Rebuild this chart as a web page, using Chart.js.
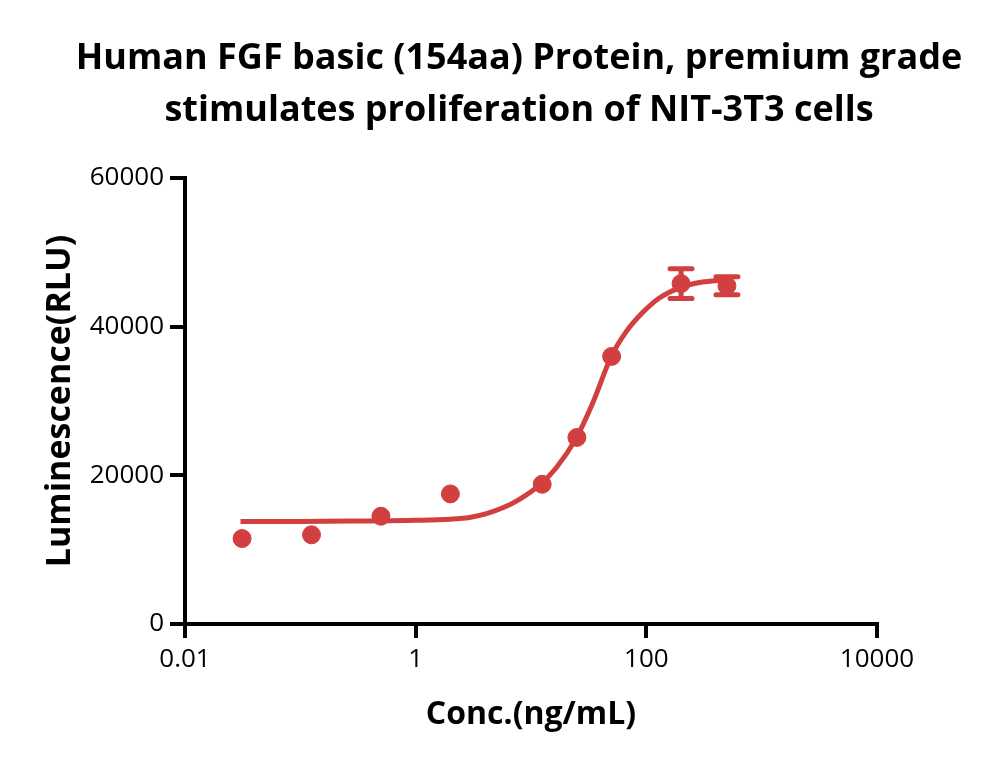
<!DOCTYPE html>
<html>
<head>
<meta charset="utf-8">
<script src="https://cdn.jsdelivr.net/npm/chart.js@4.4.0/dist/chart.umd.min.js"></script>
<style>
  html, body { margin: 0; padding: 0; background: #fff; }
  #wrap { width: 1000px; height: 765px; }
</style>
</head>
<body>
<div id="wrap"><canvas id="chart" width="1000" height="765"></canvas></div>
<script>
// measured points (mean +/- error)
const conc = [0.03125, 0.125, 0.5, 2, 12.5, 25, 50, 200, 500];
const lum = [11500, 12000, 14500, 17500, 18800, 25100, 36000, 45800, 45500];
const lumErr = [0, 0, 0, 0, 0, 0, 0, 2000, 1200];

// fitted curve
const curveX = [0.0303, 0.1, 0.3, 1, 2, 2.93, 4.12, 5.7, 7.94, 11.85, 16.5, 24.6, 34.3, 49.4, 66.7, 92.9, 129.6, 193, 307, 458];
const curveY = [13800, 13800, 13850, 13950, 14100, 14330, 14850, 15630, 16780, 18690, 20990, 24970, 29720, 35920, 39300, 41890, 43850, 45230, 46000, 46260];

const xTicks = [0.01, 1, 100, 10000];
const yTicks = [0, 20000, 40000, 60000];

const red = '#d23f41';

const errorBars = {
  id: 'errorBars',
  afterDatasetsDraw(chart) {
    const { ctx, scales: { x, y } } = chart;
    ctx.save();
    ctx.strokeStyle = red;
    ctx.lineWidth = 5;
    ctx.lineCap = 'round';
    conc.forEach((c, i) => {
      if (!lumErr[i]) return;
      const px = x.getPixelForValue(c);
      const top = y.getPixelForValue(lum[i] + lumErr[i]);
      const bot = y.getPixelForValue(lum[i] - lumErr[i]);
      ctx.beginPath();
      ctx.moveTo(px, top);
      ctx.lineTo(px, bot);
      ctx.moveTo(px - 11, top);
      ctx.lineTo(px + 11, top);
      ctx.moveTo(px - 11, bot);
      ctx.lineTo(px + 11, bot);
      ctx.stroke();
    });
    ctx.restore();
  }
};

new Chart(document.getElementById('chart'), {
  type: 'scatter',
  data: {
    datasets: [
      {
        label: 'data',
        data: conc.map((c, i) => ({ x: c, y: lum[i] })),
        backgroundColor: red,
        borderColor: red,
        pointRadius: 9,
        pointHoverRadius: 9,
        order: 0
      },
      {
        label: 'fit',
        data: curveX.map((c, i) => ({ x: c, y: curveY[i] })),
        showLine: true,
        borderColor: red,
        borderWidth: 5,
        pointRadius: 0,
        cubicInterpolationMode: 'monotone',
        order: 1
      }
    ]
  },
  options: {
    responsive: false,
    animation: false,
    // left padding nudges the title centre to the right like the original
    layout: { padding: { left: 38, right: 0, top: 0, bottom: 0 } },
    plugins: {
      legend: { display: false },
      tooltip: { enabled: false },
      title: {
        display: true,
        text: ['Human FGF basic (154aa) Protein, premium grade', 'stimulates proliferation of NIT-3T3 cells'],
        color: '#000',
        font: { family: 'Open Sans', size: 36, weight: 'bold', lineHeight: 52 / 36 },
        padding: { top: 33, bottom: 41 }
      }
    },
    scales: {
      x: {
        type: 'logarithmic',
        min: 0.01,
        max: 10000,
        afterBuildTicks: axis => { axis.ticks = xTicks.map(v => ({ value: v })); },
        afterFit: axis => { axis.height = 141; },
        ticks: {
          color: '#000',
          font: { family: 'Open Sans', size: 26 },
          padding: 6,
          maxRotation: 0,
          callback: v => String(v)
        },
        grid: { drawOnChartArea: false, drawTicks: true, tickLength: 14, lineWidth: 4, color: '#000' },
        border: { display: true, width: 4, color: '#000' },
        title: {
          display: true,
          text: 'Conc.(ng/mL)',
          color: '#000',
          font: { family: 'Open Sans', size: 32, weight: 'bold' },
          padding: { top: 0, bottom: 31 }
        }
      },
      y: {
        min: 0,
        max: 60000,
        afterBuildTicks: axis => { axis.ticks = yTicks.map(v => ({ value: v })); },
        afterFit: axis => { axis.width = 147; },
        ticks: {
          color: '#000',
          font: { family: 'Open Sans', size: 26 },
          padding: 6,
          callback: v => String(v)
        },
        grid: { drawOnChartArea: false, drawTicks: true, tickLength: 15, lineWidth: 4, color: '#000' },
        border: { display: true, width: 4, color: '#000' },
        title: {
          display: true,
          text: 'Luminescence(RLU)',
          color: '#000',
          font: { family: 'Open Sans', size: 34, weight: 'bold' },
          padding: { top: 2, bottom: 0 }
        }
      },
      // empty right-hand gutter so the title is not squeezed with the plot
      gutter: {
        type: 'linear',
        position: 'right',
        display: true,
        afterFit: axis => { axis.width = 123; },
        ticks: { display: false },
        grid: { display: false },
        border: { display: false }
      }
    }
  },
  plugins: [errorBars]
});
</script>
</body>
</html>
